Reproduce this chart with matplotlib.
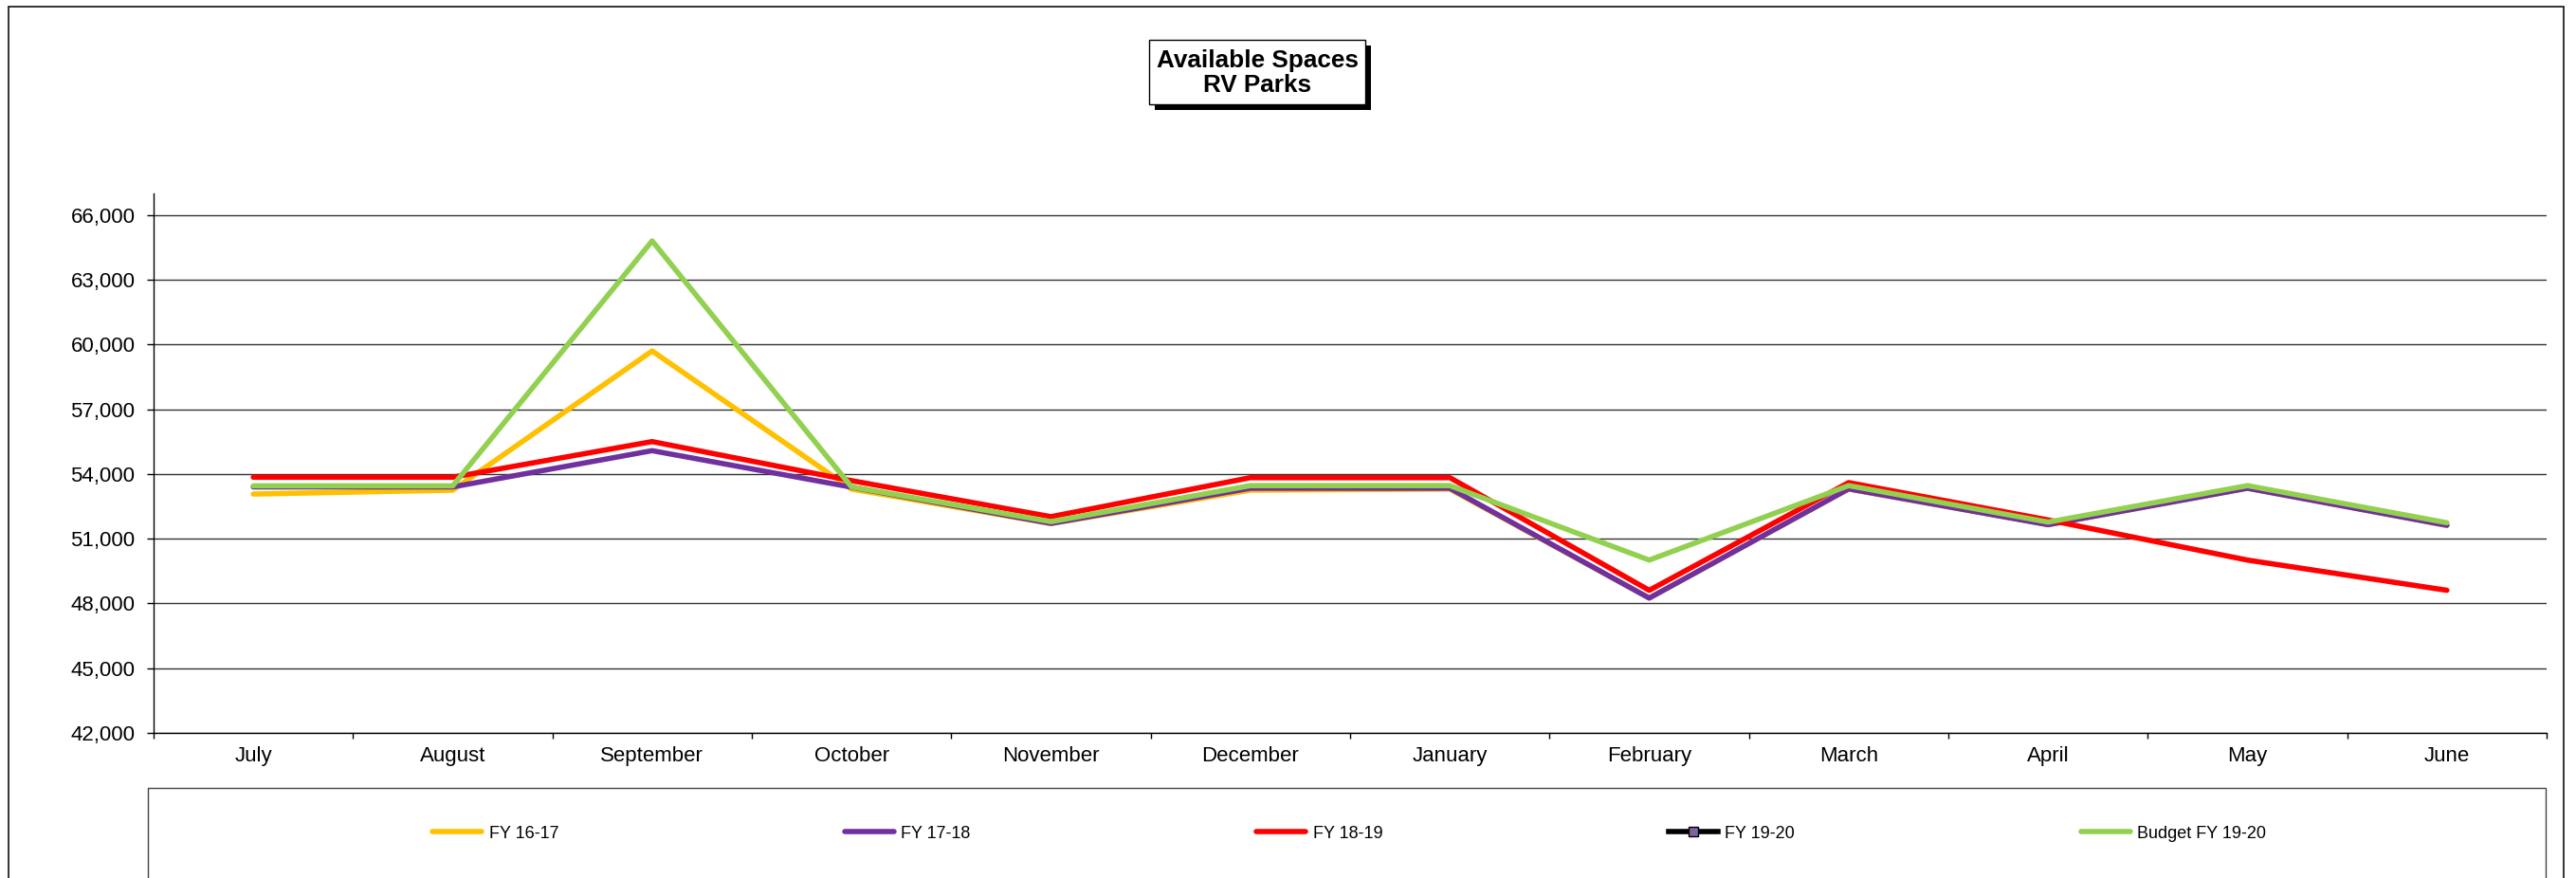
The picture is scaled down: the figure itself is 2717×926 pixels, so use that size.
import numpy as np
import matplotlib.pyplot as plt
from matplotlib.patches import Rectangle

plt.rcParams['font.family'] = ['Liberation Sans', 'DejaVu Sans']

# Dữ liệu: số chỗ trống theo tháng
thang = ["July", "August", "September", "October", "November", "December",
         "January", "February", "March", "April", "May", "June"]
fy_16_17 = [53070, 53250, 59700, 53300, 51700, 53250, 53300, 48250, 53300, 51650, 53340, 51620]
fy_17_18 = [53400, 53400, 55080, 53390, 51710, 53340, 53340, 48250, 53310, 51650, 53340, 51620]
fy_18_19 = [53850, 53850, 55500, 53690, 52020, 53830, 53830, 48610, 53600, 51870, 50010, 48610]
fy_19_20 = [np.nan] * 12
budget_19_20 = [53450, 53450, 64800, 53400, 51790, 53460, 53460, 50010, 53460, 51770, 53460, 51740]

ten_chuoi = ["FY 16-17", "FY 17-18", "FY 18-19", "FY 19-20", "Budget FY 19-20"]
mau = ["#FFC000", "#7030A0", "#FF0000", "#000000", "#92D050"]

W, H = 2717, 926
fig = plt.figure(figsize=(W / 100, H / 100), dpi=100)
ax = fig.add_axes([162 / W, 1 - 773 / H, (2686 - 162) / W, (773 - 204) / H])

x = np.arange(len(thang))
lw = 4
for ten, y, c in zip(ten_chuoi, [fy_16_17, fy_17_18, fy_18_19, fy_19_20, budget_19_20], mau):
    if ten == "FY 19-20":
        ax.plot(x, y, color=c, lw=lw, marker="s", markersize=7,
                markerfacecolor="#8064A2", markeredgecolor="black", label=ten)
    else:
        ax.plot(x, y, color=c, lw=lw, solid_capstyle="round", label=ten)

# Trục
ax.set_xlim(-0.5, 11.5)
ax.set_ylim(42000, 67000)
ax.set_yticks(np.arange(42000, 66001, 3000))
ax.yaxis.set_major_formatter(plt.FuncFormatter(lambda v, p: f"{int(v):,}"))
ax.set_xticks(np.arange(-0.5, 12, 1))
ax.set_xticklabels([])
ax.set_xticks(x, minor=True)
ax.set_xticklabels(thang, minor=True)
ax.tick_params(axis="x", which="major", direction="out", length=4.5, width=1)
ax.tick_params(axis="x", which="minor", length=0, pad=10, labelsize=16)
ax.tick_params(axis="y", direction="out", length=5, width=1, pad=9, labelsize=16)
ax.grid(axis="y", color="#333333", lw=1)
ax.set_axisbelow(True)
for s in ["top", "right"]:
    ax.spines[s].set_visible(False)
for s in ["left", "bottom"]:
    ax.spines[s].set_color("black")
    ax.spines[s].set_linewidth(1)

# Khung ngoài và khung chú thích
fig.patches.append(Rectangle((9 / W, -0.1), (2704 - 9) / W, 1.1 - 7 / H,
                             transform=fig.transFigure, fill=False, ec="#222222", lw=1.3))
fig.patches.append(Rectangle((156 / W, -0.1), (2685 - 156) / W, 0.1 + 1 - 831 / H,
                             transform=fig.transFigure, fill=False, ec="#444444", lw=1))

# Tiêu đề có bóng
fig.patches.append(Rectangle((1218 / W, 1 - 116 / H), 228 / W, 68 / H,
                             transform=fig.transFigure, fc="black", ec="none"))
fig.patches.append(Rectangle((1212 / W, 1 - 110 / H), 228 / W, 68 / H,
                             transform=fig.transFigure, fc="white", ec="black", lw=1))
fig.text(1326 / W, 1 - 77 / H, "Available Spaces\nRV Parks", ha="center", va="center",
         fontsize=18.8, fontweight="bold", linespacing=1.1)

fig.legend(loc="center left", bbox_to_anchor=(456 / W, 1 - 879 / H), ncol=5,
           frameon=False, fontsize=13, borderpad=0, borderaxespad=0,
           handlelength=2.9, handletextpad=0.4, columnspacing=16.7)

plt.savefig("out.png", dpi=100)
